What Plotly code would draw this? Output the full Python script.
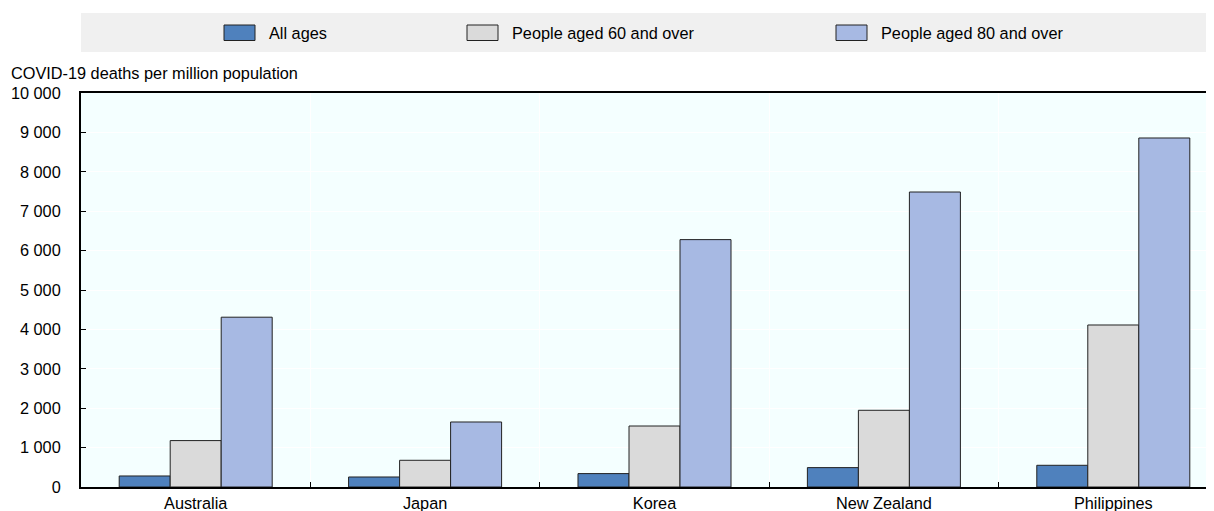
import plotly.graph_objects as go

countries = ["Australia", "Japan", "Korea", "New Zealand", "Philippines"]
series_names = ["All ages", "People aged 60 and over", "People aged 80 and over"]
all_ages = [280, 254, 340, 492, 551]
aged_60_plus = [1178, 678, 1548, 1947, 4112]
aged_80_plus = [4310, 1650, 6279, 7487, 8858]
y_ticks = [0, 1000, 2000, 3000, 4000, 5000, 6000, 7000, 8000, 9000, 10000]
y_title = "COVID-19 deaths per million population"

colors = ["#4F81BD", "#DADADA", "#A7B9E3"]
FONT = "Liberation Sans, Arial, sans-serif"

# the page body keeps its default 8px margin, so the figure is placed at (8, 8)
OFF = 8
W, H = 1214 - OFF, 511 - OFF
L, R, T, B = 81 - OFF, 0, 93 - OFF, 24


def px(x):
    # page pixel -> paper x
    return (x - OFF - L) / (W - L - R)


def py(y):
    # page pixel -> paper y
    return (H - B - (y - OFF)) / (H - T - B)


fig = go.Figure()
for name, vals, col in zip(series_names, [all_ages, aged_60_plus, aged_80_plus], colors):
    fig.add_trace(go.Bar(
        x=countries, y=vals, name=name,
        marker=dict(color=col, line=dict(color="#222222", width=1)),
        showlegend=False,
    ))

# legend band and items drawn by hand
shapes = [dict(type="rect", xref="paper", yref="paper",
               x0=px(81), x1=px(1214), y0=py(52), y1=py(13),
               fillcolor="#F0F0F0", line=dict(width=0), layer="below")]
annotations = []
legend_x = [224, 467, 836]
for name, col, lx in zip(series_names, colors, legend_x):
    shapes.append(dict(type="rect", xref="paper", yref="paper",
                       x0=px(lx), x1=px(lx + 31), y0=py(40.5), y1=py(25),
                       fillcolor=col, line=dict(color="#222222", width=1)))
    annotations.append(dict(text=name, xref="paper", yref="paper",
                            x=px(lx + 43), y=py(33), xanchor="left", yanchor="middle",
                            showarrow=False, font=dict(size=16.3, color="#000000")))

annotations.append(dict(text=y_title, xref="paper", yref="paper",
                        x=px(9), y=py(73), xanchor="left", yanchor="middle",
                        showarrow=False, font=dict(size=16.3, color="#000000")))

fig.update_layout(
    width=W, height=H,
    margin=dict(l=L, r=R, t=T, b=B),
    barmode="group", bargap=0.333, bargroupgap=0,
    plot_bgcolor="#F4FFFF", paper_bgcolor="#FFFFFF",
    font=dict(family=FONT, size=16.3, color="#000000"),
    separators=". ",
    shapes=shapes, annotations=annotations,
    showlegend=False,
)
fig.update_xaxes(
    type="category", range=[-0.5, 4.439],
    tickson="boundaries", ticks="inside", ticklen=5, tickcolor="#000000",
    showgrid=True, gridcolor="#FFFFFF", gridwidth=1,
    showline=True, linecolor="#000000", linewidth=2, mirror=True,
)
fig.update_yaxes(
    range=[0, 10000], tickvals=y_ticks, tickformat=",",
    ticks="inside", ticklen=5, tickcolor="#000000",
    showgrid=True, gridcolor="#FFFFFF", gridwidth=1,
    showline=True, linecolor="#000000", linewidth=2,
    zeroline=False, ticklabelstandoff=15,
)

fig.write_html("out.html")
